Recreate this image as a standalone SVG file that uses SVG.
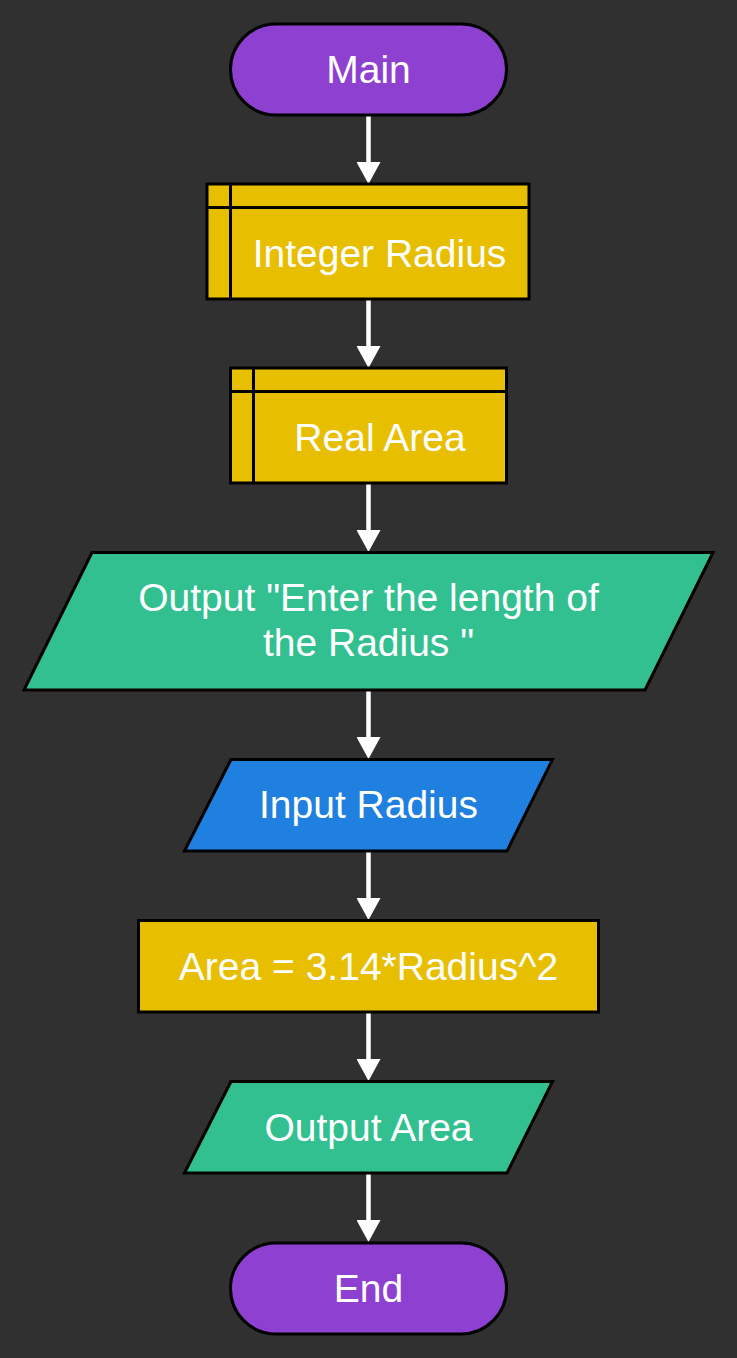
<svg xmlns="http://www.w3.org/2000/svg" width="737" height="1358" viewBox="0 0 737 1358">
<style>
.bg{fill:#303030}
.node{stroke:#000;stroke-width:3}
.term{fill:#8E40D0}
.proc{fill:#E8BE00}
.out{fill:#32C090}
.in{fill:#2080E0}
.div{stroke:#000;stroke-width:3;fill:none}
.lbl{font-family:"Liberation Sans",Arial,sans-serif;font-size:39px;fill:#fff;text-anchor:middle}
.edge{stroke:#fff;stroke-width:4.5;fill:none}
</style>
<defs>
<marker id="arr" viewBox="0 0 22 24" markerWidth="22" markerHeight="24" refX="0" refY="12" orient="auto" markerUnits="userSpaceOnUse">
<path d="M0,0 L22,12 L0,24 z" fill="#fff"/>
</marker>
</defs>
<rect class="bg" x="0" y="0" width="737" height="1358"/>
<g id="connectors">
<line class="edge" x1="368.5" y1="115" x2="368.5" y2="162" marker-end="url(#arr)"/>
<line class="edge" x1="368.5" y1="299" x2="368.5" y2="346" marker-end="url(#arr)"/>
<line class="edge" x1="368.5" y1="483" x2="368.5" y2="530" marker-end="url(#arr)"/>
<line class="edge" x1="368.5" y1="690" x2="368.5" y2="737" marker-end="url(#arr)"/>
<line class="edge" x1="368.5" y1="851" x2="368.5" y2="898" marker-end="url(#arr)"/>
<line class="edge" x1="368.5" y1="1012" x2="368.5" y2="1059" marker-end="url(#arr)"/>
<line class="edge" x1="368.5" y1="1173" x2="368.5" y2="1220" marker-end="url(#arr)"/>
</g>
<g id="main">
<rect class="node term" x="230.5" y="24" width="276" height="91" rx="45.5" ry="45.5"/>
<text class="lbl" x="368.5" y="83">Main</text>
</g>
<g id="integer-radius">
<rect class="node proc" x="207" y="184" width="322" height="115"/>
<path class="div" d="M207,207.5 H529 M230.5,184 V299"/>
<text class="lbl" x="379.5" y="267">Integer Radius</text>
</g>
<g id="real-area">
<rect class="node proc" x="230.5" y="368" width="276" height="115"/>
<path class="div" d="M230.5,391.5 H506.5 M253.5,368 V483"/>
<text class="lbl" x="380" y="451">Real Area</text>
</g>
<g id="output-prompt">
<polygon class="node out" points="92,552.5 713,552.5 645,690 24,690"/>
<text class="lbl" x="368.5" y="611">Output "Enter the length of</text>
<text class="lbl" x="368.5" y="656">the Radius "</text>
</g>
<g id="input-radius">
<polygon class="node in" points="231,759.5 552.5,759.5 507,851 184.5,851"/>
<text class="lbl" x="368.5" y="818">Input Radius</text>
</g>
<g id="compute-area">
<rect class="node proc" x="138.5" y="920.5" width="460" height="91.5"/>
<text class="lbl" x="368.5" y="979.5">Area = 3.14*Radius^2</text>
</g>
<g id="output-area">
<polygon class="node out" points="231,1081.5 552.5,1081.5 507,1173 184.5,1173"/>
<text class="lbl" x="368.5" y="1140.5">Output Area</text>
</g>
<g id="end">
<rect class="node term" x="230.5" y="1243" width="276" height="91" rx="45.5" ry="45.5"/>
<text class="lbl" x="368.5" y="1302">End</text>
</g>
</svg>
